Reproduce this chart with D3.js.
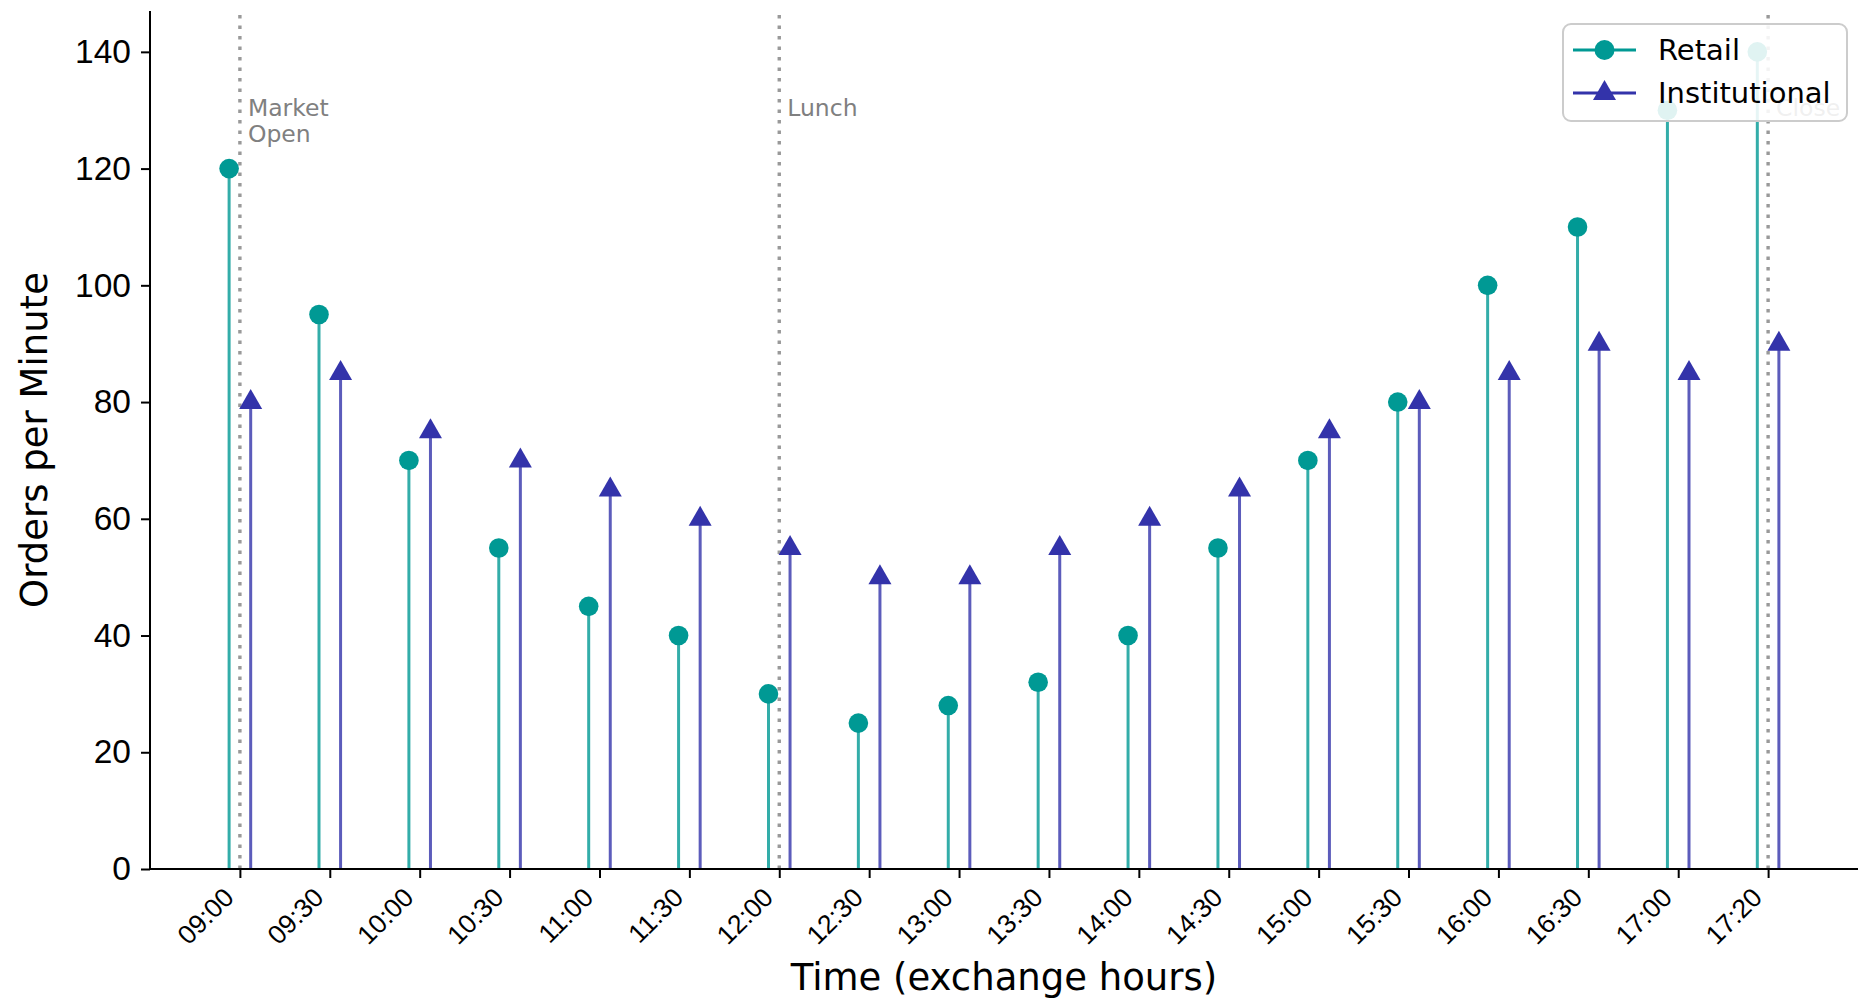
<!DOCTYPE html>
<html lang="en">
<head>
    <meta charset="UTF-8">
    <title>Orders per Minute - Retail vs Institutional</title>
    <script src="https://d3js.org/d3.v7.min.js"></script>
    <style>
        body { margin: 0; background: #fff; }
        svg { display: block; font-family: "DejaVu Sans", sans-serif; }
    </style>
</head>
<body>
    <svg width="1862" height="998"></svg>

    <script>
        // data
        const times = ["09:00", "09:30", "10:00", "10:30", "11:00", "11:30", "12:00", "12:30", "13:00",
                       "13:30", "14:00", "14:30", "15:00", "15:30", "16:00", "16:30", "17:00", "17:20"];
        const retail = [120, 95, 70, 55, 45, 40, 30, 25, 28, 32, 40, 55, 70, 80, 100, 110, 130, 140];
        const institutional = [80, 85, 75, 70, 65, 60, 55, 50, 50, 55, 60, 65, 75, 80, 85, 90, 85, 90];
        const yTicks = [0, 20, 40, 60, 80, 100, 120, 140];
        const events = [
            { at: "09:00", label: ["Market", "Open"] },
            { at: "12:00", label: ["Lunch"] },
            { at: "17:20", label: ["Close"] }
        ];

        const retailColor = "#009994";
        const instColor = "#3333aa";

        const svg = d3.select("svg");
        const pLeft = 150, pRight = 1858, pTop = 11, pBottom = 869;

        const x = d3.scaleLinear().domain([-1, times.length]).range([pLeft, pRight]);
        const y = d3.scaleLinear().domain([0, 147]).range([pBottom, pTop]);
        const off = 0.12;

        // event lines
        svg.selectAll("line.event").data(events).enter().append("line")
            .attr("class", "event")
            .attr("x1", d => x(times.indexOf(d.at)))
            .attr("x2", d => x(times.indexOf(d.at)))
            .attr("y1", pTop + 4)
            .attr("y2", pBottom)
            .attr("stroke", "#999")
            .attr("stroke-width", 3.4)
            .attr("stroke-dasharray", "3.4,7.1");

        const evText = svg.selectAll("text.event").data(events).enter().append("text")
            .attr("class", "event")
            .attr("x", d => x(times.indexOf(d.at)) + 8)
            .attr("y", 116)
            .attr("fill", "#808080")
            .style("font-size", "23.5px");
        evText.selectAll("tspan").data(d => d.label).enter().append("tspan")
            .attr("x", function () { return d3.select(this.parentNode).attr("x"); })
            .attr("dy", (d, i) => i === 0 ? 0 : 26)
            .text(d => d);

        // stems
        svg.selectAll("line.rstem").data(retail).enter().append("line")
            .attr("x1", (d, i) => x(i - off))
            .attr("x2", (d, i) => x(i - off))
            .attr("y1", y(0))
            .attr("y2", d => y(d))
            .attr("stroke", retailColor)
            .attr("stroke-opacity", 0.8)
            .attr("stroke-width", 3);

        svg.selectAll("line.istem").data(institutional).enter().append("line")
            .attr("x1", (d, i) => x(i + off))
            .attr("x2", (d, i) => x(i + off))
            .attr("y1", y(0))
            .attr("y2", d => y(d))
            .attr("stroke", instColor)
            .attr("stroke-opacity", 0.8)
            .attr("stroke-width", 3);

        // markers
        svg.selectAll("circle.r").data(retail).enter().append("circle")
            .attr("cx", (d, i) => x(i - off))
            .attr("cy", d => y(d))
            .attr("r", 9.8)
            .attr("fill", retailColor);

        const tri = "M0,-13L11.5,7L-11.5,7Z";
        svg.selectAll("path.i").data(institutional).enter().append("path")
            .attr("d", tri)
            .attr("transform", (d, i) => `translate(${x(i + off)},${y(d)})`)
            .attr("fill", instColor);

        // axes
        const yAxis = svg.append("g")
            .attr("transform", `translate(${pLeft},0)`)
            .call(d3.axisLeft(y).tickValues(yTicks).tickSize(9).tickPadding(10));
        yAxis.selectAll("text").style("font-size", "33.5px").attr("fill", "#000");

        const xAxis = svg.append("g")
            .attr("transform", `translate(0,${pBottom})`)
            .call(d3.axisBottom(x).tickValues(d3.range(times.length)).tickSize(9)
                .tickFormat(i => times[i]));
        xAxis.selectAll("text")
            .style("font-size", "26.5px")
            .attr("fill", "#000")
            .attr("text-anchor", "end")
            .attr("dy", null)
            .attr("y", null)
            .attr("transform", "translate(-5,30) rotate(-45)");

        [yAxis, xAxis].forEach(g => {
            g.select(".domain").attr("stroke", "#000").attr("stroke-width", 2);
            g.selectAll(".tick line").attr("stroke", "#000").attr("stroke-width", 2);
        });
        xAxis.select(".domain").attr("d", `M${pLeft},0H${pRight}`);
        yAxis.select(".domain").attr("d", `M0,${pBottom}V${pTop}`);

        // axis titles
        svg.append("text")
            .attr("x", (pLeft + pRight) / 2)
            .attr("y", 990)
            .attr("text-anchor", "middle")
            .style("font-size", "37px")
            .text("Time (exchange hours)");

        svg.append("text")
            .attr("transform", `translate(47,${(pTop + pBottom) / 2}) rotate(-90)`)
            .attr("text-anchor", "middle")
            .style("font-size", "37px")
            .text("Orders per Minute");

        // legend
        const legend = svg.append("g");
        legend.append("rect")
            .attr("x", 1563).attr("y", 24)
            .attr("width", 284).attr("height", 97)
            .attr("rx", 8)
            .attr("fill", "#fff").attr("fill-opacity", 0.88)
            .attr("stroke", "#ccc").attr("stroke-width", 2);

        const series = [
            { name: "Retail", color: retailColor, shape: "circle" },
            { name: "Institutional", color: instColor, shape: "triangle" }
        ];
        const item = legend.selectAll("g.item").data(series).enter().append("g")
            .attr("transform", (d, i) => `translate(0,${50 + i * 43})`);
        item.append("line")
            .attr("x1", 1573).attr("x2", 1636)
            .attr("stroke", d => d.color).attr("stroke-width", 3);
        item.filter(d => d.shape === "circle").append("circle")
            .attr("cx", 1604.5).attr("r", 10).attr("fill", d => d.color);
        item.filter(d => d.shape === "triangle").append("path")
            .attr("d", tri).attr("transform", "translate(1604.5,0)").attr("fill", d => d.color);
        item.append("text")
            .attr("x", 1658)
            .attr("dy", "0.36em")
            .style("font-size", "29px")
            .text(d => d.name);
    </script>
</body>
</html>
